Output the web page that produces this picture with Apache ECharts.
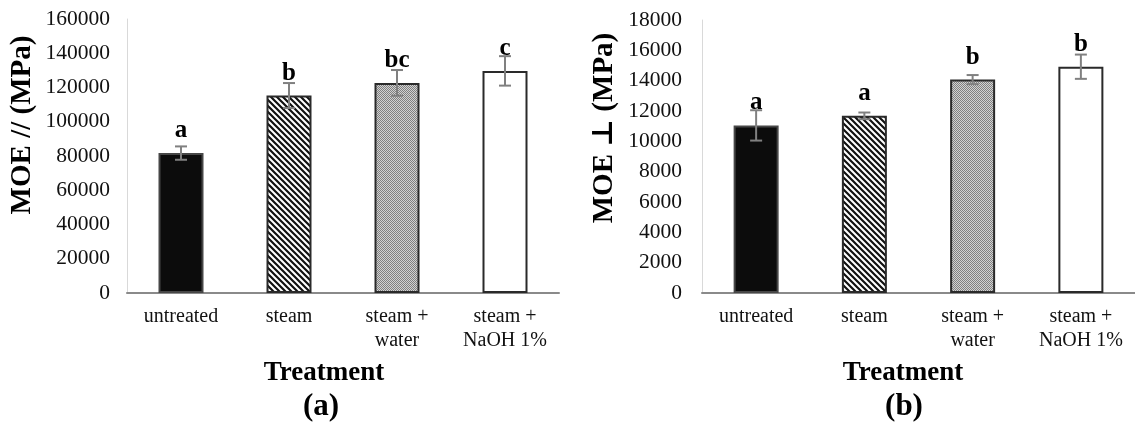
<!DOCTYPE html>
<html>
<head>
<meta charset="utf-8">
<script src="https://cdn.jsdelivr.net/npm/echarts@6/dist/echarts.min.js"></script>
<style>
html, body { margin: 0; padding: 0; background: #fff; }
#chart { width: 1135px; height: 426px; }
</style>
</head>
<body>
<div id="chart"></div>
<script>
// treatments on the x axis
const categories = ['untreated', 'steam', 'steam +\nwater', 'steam +\nNaOH 1%'];

// (a) MOE parallel
const moeParallel = [81700, 115300, 122700, 129700];
const moeParallelErr = [3900, 7300, 7500, 8600];
const moeParallelLetters = ['a', 'b', 'bc', 'c'];
const moeParallelMax = 160000;
const moeParallelStep = 20000;

// (b) MOE perpendicular
const moePerp = [11050, 11680, 14070, 14920];
const moePerpErr = [1000, 220, 300, 800];
const moePerpLetters = ['a', 'a', 'b', 'b'];
const moePerpMax = 18000;
const moePerpStep = 2000;

const serif = 'Liberation Serif, DejaVu Serif, serif';

// fill patterns like the excel chart
function stripes() {
  const c = document.createElement('canvas');
  c.width = 6; c.height = 6;
  const g = c.getContext('2d');
  g.fillStyle = '#fff';
  g.fillRect(0, 0, 6, 6);
  g.strokeStyle = '#111';
  g.lineWidth = 2.2;
  g.beginPath();
  g.moveTo(-1, -1); g.lineTo(7, 7);
  g.moveTo(-4, 2); g.lineTo(4, 10);
  g.moveTo(2, -4); g.lineTo(10, 4);
  g.stroke();
  return c;
}
function dots() {
  const c = document.createElement('canvas');
  c.width = 2; c.height = 2;
  const g = c.getContext('2d');
  g.fillStyle = '#d2d2d2';
  g.fillRect(0, 0, 2, 2);
  g.fillStyle = '#808080';
  g.fillRect(0, 0, 1, 1);
  g.fillRect(1, 1, 1, 1);
  return c;
}

const fills = [
  { color: '#0c0c0c', borderColor: '#474747', borderWidth: 2 },
  { color: { image: stripes(), repeat: 'repeat' }, borderColor: '#2a2a2a', borderWidth: 2 },
  { color: { image: dots(), repeat: 'repeat' }, borderColor: '#2a2a2a', borderWidth: 2 },
  { color: '#ffffff', borderColor: '#2a2a2a', borderWidth: 2 }
];

function errorBars(params, api) {
  const x = api.value(0), v = api.value(1), e = api.value(2);
  const hi = api.coord([x, v + e]);
  const lo = api.coord([x, v - e]);
  const cap = 6;
  const st = { stroke: '#808080', lineWidth: 2 };
  return {
    type: 'group',
    children: [
      { type: 'line', shape: { x1: hi[0], y1: hi[1], x2: lo[0], y2: lo[1] }, style: st },
      { type: 'line', shape: { x1: hi[0] - cap, y1: hi[1], x2: hi[0] + cap, y2: hi[1] }, style: st },
      { type: 'line', shape: { x1: lo[0] - cap, y1: lo[1], x2: lo[0] + cap, y2: lo[1] }, style: st }
    ]
  };
}

function xAxisFor(idx) {
  return {
    type: 'category',
    gridIndex: idx,
    data: categories,
    axisLine: { lineStyle: { color: '#8a8a8a', width: 2 } },
    axisTick: { show: false },
    axisLabel: { fontFamily: serif, fontSize: 20, color: '#111', lineHeight: 24, margin: 12, interval: 0 }
  };
}
function yAxisFor(idx, max, step, margin) {
  return {
    type: 'value',
    gridIndex: idx,
    min: 0,
    max: max,
    interval: step,
    splitLine: { show: false },
    axisTick: { show: false },
    axisLine: { show: true, lineStyle: { color: '#d9d9d9', width: 1 } },
    axisLabel: {
      fontFamily: serif, fontSize: 21.5, color: '#111', margin: margin,
      formatter: v => String(v)
    }
  };
}
function barsFor(idx, values, letters) {
  return {
    type: 'bar',
    xAxisIndex: idx,
    yAxisIndex: idx,
    barWidth: 45,
    data: values.map((v, i) => ({ value: v, itemStyle: fills[i] })),
    label: {
      show: true,
      position: 'top',
      distance: 10,
      formatter: p => letters[p.dataIndex],
      fontFamily: serif,
      fontWeight: 'bold',
      fontSize: 25,
      color: '#000'
    }
  };
}
function errFor(idx, values, errs) {
  return {
    type: 'custom',
    xAxisIndex: idx,
    yAxisIndex: idx,
    z: 3,
    renderItem: errorBars,
    encode: { x: 0, y: 1 },
    data: values.map((v, i) => [i, v, errs[i]])
  };
}
function textEl(str, x, y, size, rot) {
  return {
    type: 'text',
    x: x,
    y: y,
    rotation: rot || 0,
    style: {
      text: str,
      fontFamily: serif,
      fontWeight: 'bold',
      fontSize: size,
      fill: '#000',
      align: 'center',
      verticalAlign: 'middle'
    }
  };
}

const chart = echarts.init(document.getElementById('chart'));
chart.setOption({
  animation: false,
  backgroundColor: '#fff',
  grid: [
    { left: 127, top: 19, width: 432, height: 274 },
    { left: 702, top: 20, width: 441, height: 273 }
  ],
  xAxis: [xAxisFor(0), xAxisFor(1)],
  yAxis: [
    yAxisFor(0, moeParallelMax, moeParallelStep, 17),
    yAxisFor(1, moePerpMax, moePerpStep, 20)
  ],
  series: [
    barsFor(0, moeParallel, moeParallelLetters),
    errFor(0, moeParallel, moeParallelErr),
    barsFor(1, moePerp, moePerpLetters),
    errFor(1, moePerp, moePerpErr)
  ],
  graphic: [
    textEl('MOE // (MPa)', 23, 125, 29, Math.PI / 2),
    textEl('MOE \u22A5 (MPa)', 605, 128, 29, Math.PI / 2),
    textEl('Treatment', 324, 373, 27),
    textEl('Treatment', 903, 373, 27),
    textEl('(a)', 321, 407, 31),
    textEl('(b)', 904, 407, 31)
  ]
});
</script>
</body>
</html>
